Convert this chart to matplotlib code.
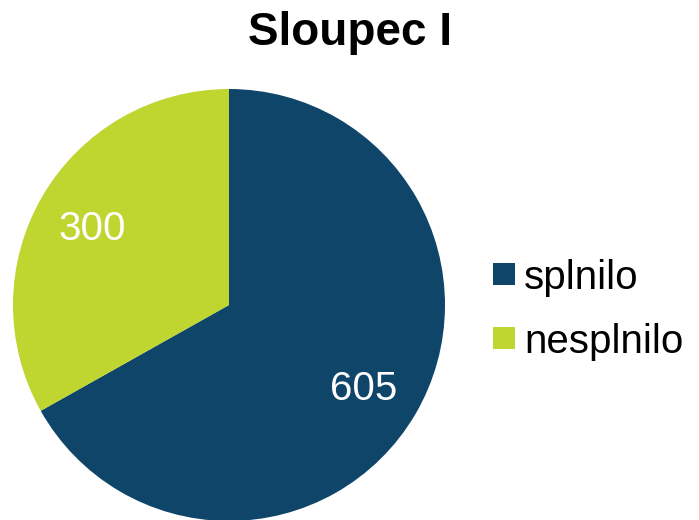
import matplotlib
matplotlib.use("Agg")
import matplotlib.pyplot as plt
from matplotlib.patches import Rectangle
from matplotlib.transforms import offset_copy

plt.rcParams['font.family'] = ['Liberation Sans', 'DejaVu Sans']

categories = ["splnilo", "nesplnilo"]
values = [605, 300]
colors = ["#10456A", "#BFD630"]
title = "Sloupec I"

W, H = 699, 520
fig = plt.figure(figsize=(W / 100, H / 100), dpi=100)

cx, cy, r = 229, 305, 216
ax = fig.add_axes([(cx - r) / W, (H - cy - r) / H, 2 * r / W, 2 * r / H])
wedges, texts = ax.pie(values, colors=colors, startangle=90, counterclock=False,
                       radius=1, labels=[str(v) for v in values], labeldistance=0.73,
                       textprops=dict(color="white", fontsize=29, ha="center", va="center"))
for t in texts:
    t.set_ha("center")
    t.set_va("center")
    t.set_transform(offset_copy(ax.transData, fig=fig, x=-1, y=-4, units="dots"))
ax.set_xlim(-1, 1)
ax.set_ylim(-1, 1)
ax.set_aspect("equal")
ax.axis("off")

fig.text(350 / W, 1 - 33 / H, title, ha="center", va="center", fontsize=33, fontweight="bold")

# legend
leg_y = [274, 338]
for cat, col, y in zip(categories, colors, leg_y):
    fig.patches.append(Rectangle((493 / W, 1 - (y + 11) / H), 22 / W, 22 / H,
                                 transform=fig.transFigure, facecolor=col, edgecolor="none"))
    fig.text(524 / W, 1 - y / H, cat, ha="left", va="center_baseline", fontsize=29)

fig.savefig("out.png", dpi=100)
